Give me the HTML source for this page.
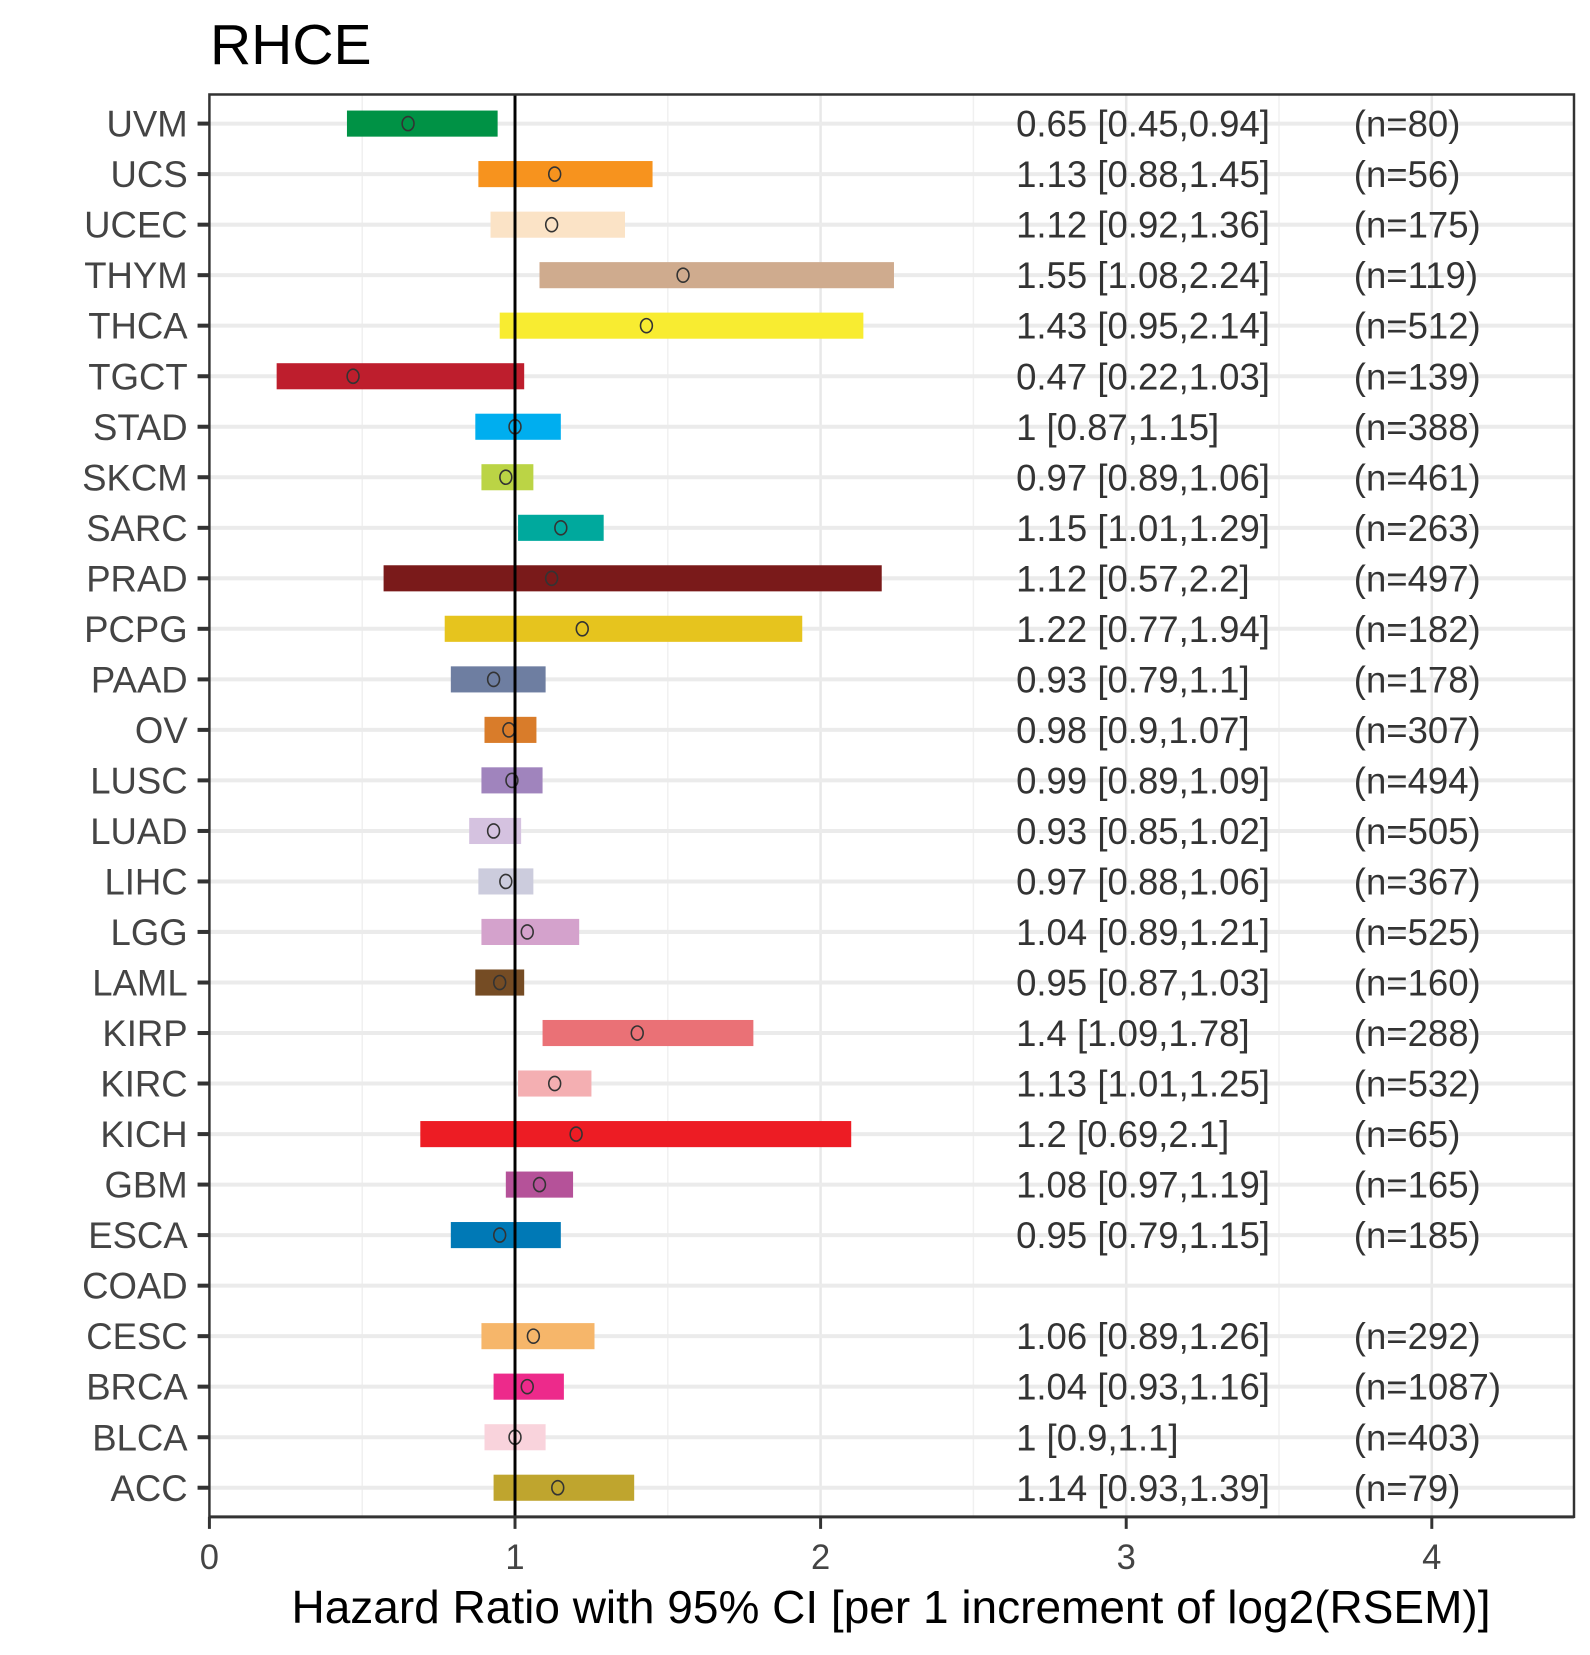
<!DOCTYPE html>
<html><head><meta charset="utf-8"><style>body{margin:0;background:#fff}
.l{font-size:37px;fill:#444;text-anchor:end}
.v{font-size:37px;fill:#333}
.p{fill:none;stroke:#333;stroke-width:1.6}
.h{stroke:#ebebeb;stroke-width:4}
.t{stroke:#333;stroke-width:4}
</style></head><body>
<svg width="1590" height="1650" xmlns="http://www.w3.org/2000/svg" font-family="Liberation Sans, sans-serif">
<rect width="1590" height="1650" fill="#fff"/>
<text x="210" y="64" font-size="57" fill="#000">RHCE</text>
<g transform="matrix(0.9874,0,0,1.003775,1.0654,1.1395)">
<g stroke="#f0f0f0" stroke-width="1.5">
<line x1="365.75" x2="365.75" y1="93" y2="1510"/><line x1="675.25" x2="675.25" y1="93" y2="1510"/><line x1="984.75" x2="984.75" y1="93" y2="1510"/><line x1="1294.25" x2="1294.25" y1="93" y2="1510"/>
</g>
<g stroke="#e8e8e8" stroke-width="2.5">
<line x1="830" x2="830" y1="93" y2="1510"/><line x1="1139.5" x2="1139.5" y1="93" y2="1510"/><line x1="1449" x2="1449" y1="93" y2="1510"/>
</g>
<g transform="translate(0,122)"><line class="h" x1="211" x2="1593"/><line class="t" x1="199" x2="211"/><text class="l" x="189" y="13">UVM</text><rect x="350.3" y="-13" width="152.6" height="26" fill="#009245"/><ellipse class="p" cx="412.2" rx="6" ry="7"/><text class="v" x="1028" y="13">0.65 [0.45,0.94]</text><text class="v" x="1370" y="13">(n=80)</text></g>
<g transform="translate(0,172.3)"><line class="h" x1="211" x2="1593"/><line class="t" x1="199" x2="211"/><text class="l" x="189" y="13">UCS</text><rect x="483.4" y="-13" width="176.4" height="26" fill="#F7931E"/><ellipse class="p" cx="560.7" rx="6" ry="7"/><text class="v" x="1028" y="13">1.13 [0.88,1.45]</text><text class="v" x="1370" y="13">(n=56)</text></g>
<g transform="translate(0,222.7)"><line class="h" x1="211" x2="1593"/><line class="t" x1="199" x2="211"/><text class="l" x="189" y="13">UCEC</text><rect x="495.7" y="-13" width="136.2" height="26" fill="#FBE3C6"/><ellipse class="p" cx="557.6" rx="6" ry="7"/><text class="v" x="1028" y="13">1.12 [0.92,1.36]</text><text class="v" x="1370" y="13">(n=175)</text></g>
<g transform="translate(0,273)"><line class="h" x1="211" x2="1593"/><line class="t" x1="199" x2="211"/><text class="l" x="189" y="13">THYM</text><rect x="545.3" y="-13" width="359" height="26" fill="#CFAB8E"/><ellipse class="p" cx="690.7" rx="6" ry="7"/><text class="v" x="1028" y="13">1.55 [1.08,2.24]</text><text class="v" x="1370" y="13">(n=119)</text></g>
<g transform="translate(0,323.3)"><line class="h" x1="211" x2="1593"/><line class="t" x1="199" x2="211"/><text class="l" x="189" y="13">THCA</text><rect x="505" y="-13" width="368.3" height="26" fill="#F8EC31"/><ellipse class="p" cx="653.6" rx="6" ry="7"/><text class="v" x="1028" y="13">1.43 [0.95,2.14]</text><text class="v" x="1370" y="13">(n=512)</text></g>
<g transform="translate(0,373.7)"><line class="h" x1="211" x2="1593"/><line class="t" x1="199" x2="211"/><text class="l" x="189" y="13">TGCT</text><rect x="279.1" y="-13" width="250.7" height="26" fill="#BE1E2D"/><ellipse class="p" cx="356.5" rx="6" ry="7"/><text class="v" x="1028" y="13">0.47 [0.22,1.03]</text><text class="v" x="1370" y="13">(n=139)</text></g>
<g transform="translate(0,424)"><line class="h" x1="211" x2="1593"/><line class="t" x1="199" x2="211"/><text class="l" x="189" y="13">STAD</text><rect x="480.3" y="-13" width="86.6" height="26" fill="#00AEEF"/><ellipse class="p" cx="520.5" rx="6" ry="7"/><text class="v" x="1028" y="13">1 [0.87,1.15]</text><text class="v" x="1370" y="13">(n=388)</text></g>
<g transform="translate(0,474.3)"><line class="h" x1="211" x2="1593"/><line class="t" x1="199" x2="211"/><text class="l" x="189" y="13">SKCM</text><rect x="486.5" y="-13" width="52.6" height="26" fill="#BBD445"/><ellipse class="p" cx="511.2" rx="6" ry="7"/><text class="v" x="1028" y="13">0.97 [0.89,1.06]</text><text class="v" x="1370" y="13">(n=461)</text></g>
<g transform="translate(0,524.7)"><line class="h" x1="211" x2="1593"/><line class="t" x1="199" x2="211"/><text class="l" x="189" y="13">SARC</text><rect x="523.6" y="-13" width="86.7" height="26" fill="#00A99D"/><ellipse class="p" cx="566.9" rx="6" ry="7"/><text class="v" x="1028" y="13">1.15 [1.01,1.29]</text><text class="v" x="1370" y="13">(n=263)</text></g>
<g transform="translate(0,575)"><line class="h" x1="211" x2="1593"/><line class="t" x1="199" x2="211"/><text class="l" x="189" y="13">PRAD</text><rect x="387.4" y="-13" width="504.5" height="26" fill="#7A1A1A"/><ellipse class="p" cx="557.6" rx="6" ry="7"/><text class="v" x="1028" y="13">1.12 [0.57,2.2]</text><text class="v" x="1370" y="13">(n=497)</text></g>
<g transform="translate(0,625.3)"><line class="h" x1="211" x2="1593"/><line class="t" x1="199" x2="211"/><text class="l" x="189" y="13">PCPG</text><rect x="449.3" y="-13" width="362.1" height="26" fill="#E6C41E"/><ellipse class="p" cx="588.6" rx="6" ry="7"/><text class="v" x="1028" y="13">1.22 [0.77,1.94]</text><text class="v" x="1370" y="13">(n=182)</text></g>
<g transform="translate(0,675.7)"><line class="h" x1="211" x2="1593"/><line class="t" x1="199" x2="211"/><text class="l" x="189" y="13">PAAD</text><rect x="455.5" y="-13" width="96" height="26" fill="#6E7EA1"/><ellipse class="p" cx="498.8" rx="6" ry="7"/><text class="v" x="1028" y="13">0.93 [0.79,1.1]</text><text class="v" x="1370" y="13">(n=178)</text></g>
<g transform="translate(0,726)"><line class="h" x1="211" x2="1593"/><line class="t" x1="199" x2="211"/><text class="l" x="189" y="13">OV</text><rect x="489.6" y="-13" width="52.6" height="26" fill="#D97C2A"/><ellipse class="p" cx="514.3" rx="6" ry="7"/><text class="v" x="1028" y="13">0.98 [0.9,1.07]</text><text class="v" x="1370" y="13">(n=307)</text></g>
<g transform="translate(0,776.3)"><line class="h" x1="211" x2="1593"/><line class="t" x1="199" x2="211"/><text class="l" x="189" y="13">LUSC</text><rect x="486.5" y="-13" width="61.9" height="26" fill="#A084BD"/><ellipse class="p" cx="517.4" rx="6" ry="7"/><text class="v" x="1028" y="13">0.99 [0.89,1.09]</text><text class="v" x="1370" y="13">(n=494)</text></g>
<g transform="translate(0,826.7)"><line class="h" x1="211" x2="1593"/><line class="t" x1="199" x2="211"/><text class="l" x="189" y="13">LUAD</text><rect x="474.1" y="-13" width="52.6" height="26" fill="#D5C2E0"/><ellipse class="p" cx="498.8" rx="6" ry="7"/><text class="v" x="1028" y="13">0.93 [0.85,1.02]</text><text class="v" x="1370" y="13">(n=505)</text></g>
<g transform="translate(0,877)"><line class="h" x1="211" x2="1593"/><line class="t" x1="199" x2="211"/><text class="l" x="189" y="13">LIHC</text><rect x="483.4" y="-13" width="55.7" height="26" fill="#CCCCDD"/><ellipse class="p" cx="511.2" rx="6" ry="7"/><text class="v" x="1028" y="13">0.97 [0.88,1.06]</text><text class="v" x="1370" y="13">(n=367)</text></g>
<g transform="translate(0,927.3)"><line class="h" x1="211" x2="1593"/><line class="t" x1="199" x2="211"/><text class="l" x="189" y="13">LGG</text><rect x="486.5" y="-13" width="99" height="26" fill="#D4A2CC"/><ellipse class="p" cx="532.9" rx="6" ry="7"/><text class="v" x="1028" y="13">1.04 [0.89,1.21]</text><text class="v" x="1370" y="13">(n=525)</text></g>
<g transform="translate(0,977.7)"><line class="h" x1="211" x2="1593"/><line class="t" x1="199" x2="211"/><text class="l" x="189" y="13">LAML</text><rect x="480.3" y="-13" width="49.5" height="26" fill="#754C24"/><ellipse class="p" cx="505" rx="6" ry="7"/><text class="v" x="1028" y="13">0.95 [0.87,1.03]</text><text class="v" x="1370" y="13">(n=160)</text></g>
<g transform="translate(0,1028)"><line class="h" x1="211" x2="1593"/><line class="t" x1="199" x2="211"/><text class="l" x="189" y="13">KIRP</text><rect x="548.4" y="-13" width="213.5" height="26" fill="#EA7176"/><ellipse class="p" cx="644.3" rx="6" ry="7"/><text class="v" x="1028" y="13">1.4 [1.09,1.78]</text><text class="v" x="1370" y="13">(n=288)</text></g>
<g transform="translate(0,1078.3)"><line class="h" x1="211" x2="1593"/><line class="t" x1="199" x2="211"/><text class="l" x="189" y="13">KIRC</text><rect x="523.6" y="-13" width="74.3" height="26" fill="#F4AFB2"/><ellipse class="p" cx="560.7" rx="6" ry="7"/><text class="v" x="1028" y="13">1.13 [1.01,1.25]</text><text class="v" x="1370" y="13">(n=532)</text></g>
<g transform="translate(0,1128.7)"><line class="h" x1="211" x2="1593"/><line class="t" x1="199" x2="211"/><text class="l" x="189" y="13">KICH</text><rect x="424.6" y="-13" width="436.4" height="26" fill="#ED1C24"/><ellipse class="p" cx="582.4" rx="6" ry="7"/><text class="v" x="1028" y="13">1.2 [0.69,2.1]</text><text class="v" x="1370" y="13">(n=65)</text></g>
<g transform="translate(0,1179)"><line class="h" x1="211" x2="1593"/><line class="t" x1="199" x2="211"/><text class="l" x="189" y="13">GBM</text><rect x="511.2" y="-13" width="68.1" height="26" fill="#B55299"/><ellipse class="p" cx="545.3" rx="6" ry="7"/><text class="v" x="1028" y="13">1.08 [0.97,1.19]</text><text class="v" x="1370" y="13">(n=165)</text></g>
<g transform="translate(0,1229.3)"><line class="h" x1="211" x2="1593"/><line class="t" x1="199" x2="211"/><text class="l" x="189" y="13">ESCA</text><rect x="455.5" y="-13" width="111.4" height="26" fill="#0079B6"/><ellipse class="p" cx="505" rx="6" ry="7"/><text class="v" x="1028" y="13">0.95 [0.79,1.15]</text><text class="v" x="1370" y="13">(n=185)</text></g>
<g transform="translate(0,1279.7)"><line class="h" x1="211" x2="1593"/><line class="t" x1="199" x2="211"/><text class="l" x="189" y="13">COAD</text></g>
<g transform="translate(0,1330)"><line class="h" x1="211" x2="1593"/><line class="t" x1="199" x2="211"/><text class="l" x="189" y="13">CESC</text><rect x="486.5" y="-13" width="114.5" height="26" fill="#F6B66A"/><ellipse class="p" cx="539.1" rx="6" ry="7"/><text class="v" x="1028" y="13">1.06 [0.89,1.26]</text><text class="v" x="1370" y="13">(n=292)</text></g>
<g transform="translate(0,1380.3)"><line class="h" x1="211" x2="1593"/><line class="t" x1="199" x2="211"/><text class="l" x="189" y="13">BRCA</text><rect x="498.8" y="-13" width="71.2" height="26" fill="#ED2A8B"/><ellipse class="p" cx="532.9" rx="6" ry="7"/><text class="v" x="1028" y="13">1.04 [0.93,1.16]</text><text class="v" x="1370" y="13">(n=1087)</text></g>
<g transform="translate(0,1430.7)"><line class="h" x1="211" x2="1593"/><line class="t" x1="199" x2="211"/><text class="l" x="189" y="13">BLCA</text><rect x="489.6" y="-13" width="61.9" height="26" fill="#F9D3DC"/><ellipse class="p" cx="520.5" rx="6" ry="7"/><text class="v" x="1028" y="13">1 [0.9,1.1]</text><text class="v" x="1370" y="13">(n=403)</text></g>
<g transform="translate(0,1481)"><line class="h" x1="211" x2="1593"/><line class="t" x1="199" x2="211"/><text class="l" x="189" y="13">ACC</text><rect x="498.8" y="-13" width="142.4" height="26" fill="#BFA52E"/><ellipse class="p" cx="563.8" rx="6" ry="7"/><text class="v" x="1028" y="13">1.14 [0.93,1.39]</text><text class="v" x="1370" y="13">(n=79)</text></g>
<line x1="520.5" x2="520.5" y1="93" y2="1510" stroke="#000" stroke-width="3"/>
<rect x="211" y="93" width="1382" height="1417" fill="none" stroke="#333" stroke-width="2.5"/>
<line x1="211" x2="1593" y1="1510" y2="1510" stroke="#333" stroke-width="3"/>
<g stroke="#333" stroke-width="3">
<line x1="211" x2="211" y1="1510" y2="1522"/><line x1="520.5" x2="520.5" y1="1510" y2="1522"/><line x1="830" x2="830" y1="1510" y2="1522"/><line x1="1139.5" x2="1139.5" y1="1510" y2="1522"/><line x1="1449" x2="1449" y1="1510" y2="1522"/>
</g>
<g font-size="35" fill="#444" text-anchor="middle">
<text x="211" y="1562">0</text><text x="520.5" y="1562">1</text><text x="830" y="1562">2</text><text x="1139.5" y="1562">3</text><text x="1449" y="1562">4</text>
</g>
</g>
<text x="891" y="1623" font-size="46" fill="#000" text-anchor="middle">Hazard Ratio with 95% CI [per 1 increment of log2(RSEM)]</text>
</svg>
</body></html>
